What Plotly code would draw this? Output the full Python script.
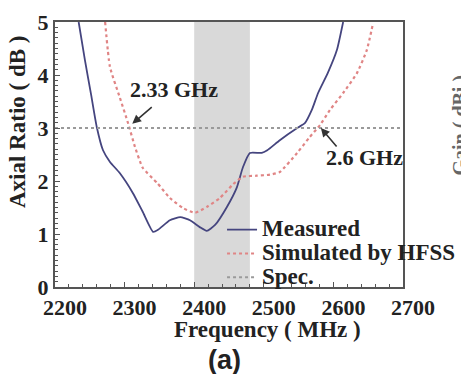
import plotly.graph_objects as go

# ---- data ----
freq_meas = [2234, 2243, 2252, 2260, 2269, 2279, 2293, 2312, 2326, 2341, 2348, 2365, 2380,
             2394, 2408, 2418, 2430, 2447, 2461, 2470, 2480, 2497, 2505, 2523, 2548, 2559,
             2569, 2578, 2592, 2605, 2614]
ar_meas = [5.0, 4.28, 3.62, 3.02, 2.58, 2.36, 2.15, 1.77, 1.42, 1.04, 1.08, 1.26, 1.32,
           1.26, 1.13, 1.06, 1.17, 1.51, 1.87, 2.26, 2.53, 2.53, 2.58, 2.77, 3.0, 3.09,
           3.34, 3.66, 4.04, 4.47, 5.0]

freq_sim = [2272, 2279, 2293, 2305, 2315, 2326, 2347, 2365, 2384, 2401, 2418, 2437, 2456,
            2470, 2490, 2509, 2523, 2548, 2566, 2581, 2595, 2614, 2634, 2648, 2657]
ar_sim = [5.0, 4.15, 3.58, 3.09, 2.64, 2.25, 1.96, 1.68, 1.49, 1.40, 1.51, 1.68, 1.94,
          2.08, 2.10, 2.12, 2.17, 2.53, 2.83, 3.06, 3.34, 3.66, 4.04, 4.47, 4.98]

freq_spec = [2200, 2700]
ar_spec = [3, 3]

band = [2400, 2480]           # shaded band (MHz)
x_ticks = [2200, 2300, 2400, 2500, 2600, 2700]
y_ticks = [0, 1, 2, 3, 4, 5]

mark_low = (2311, 3.08, "2.33 GHz")
mark_high = (2582, 3.0, "2.6 GHz")

SERIF = "Liberation Serif, Times New Roman, serif"
TXT = "#222222"

fig = go.Figure()

fig.add_shape(type="rect", xref="x", yref="paper", x0=band[0], x1=band[1], y0=0, y1=1,
              fillcolor="#d9d9d9", line=dict(width=0), layer="below")


def lg(name):
    return '<span style="font-size:23px">' + name + '</span>'


fig.add_trace(go.Scatter(x=freq_meas, y=ar_meas, mode="lines", name=lg("<b>Measured</b>"),
                         line=dict(color="#45457f", width=1.8, shape="spline", smoothing=0.5)))
fig.add_trace(go.Scatter(x=freq_sim, y=ar_sim, mode="lines", name=lg("<b>Simulated by HFSS</b>"),
                         line=dict(color="#e08585", width=2.2, dash="dot", shape="spline",
                                   smoothing=0.5)))
fig.add_trace(go.Scatter(x=freq_spec, y=ar_spec, mode="lines", name=lg("<b>Spec.</b>"),
                         line=dict(color="#9a9a9a", width=2, dash="dot")))

# marker annotations
for (fx, fy, label), (ax, ay), (tx, ty) in [
        (mark_low, (21, -18), (2371, 3.72)),
        (mark_high, (17, 20), (2645, 2.45))]:
    fig.add_annotation(x=fx, y=fy, xref="x", yref="y", text="", showarrow=True,
                       ax=ax, ay=ay, arrowhead=2, arrowsize=1.1, arrowwidth=1.6,
                       arrowcolor="#333333")
    fig.add_annotation(x=tx, y=ty, xref="x", yref="y", text="<b>" + label + "</b>",
                       showarrow=False, xanchor="center", yanchor="middle",
                       font=dict(family=SERIF, size=22, color=TXT))

# axis titles and caption
common_ann = dict(xref="paper", yref="paper", showarrow=False, xanchor="center",
                  yanchor="middle")
fig.add_annotation(x=-0.106, y=0.623, textangle=-90, text="<b>Axial Ratio ( dB )</b>",
                   font=dict(family=SERIF, size=23, color=TXT), **common_ann)
fig.add_annotation(x=0.611, y=-0.162, text="<b>Frequency ( MHz )</b>",
                   font=dict(family=SERIF, size=23, color=TXT), **common_ann)
fig.add_annotation(x=0.486, y=-0.275, text="<b>(a)</b>",
                   font=dict(family="Liberation Sans, Arial, sans-serif", size=27, color=TXT),
                   **common_ann)
fig.add_annotation(x=1.165, y=0.611, textangle=-90, text="<b>Gain ( dBi )</b>",
                   font=dict(family=SERIF, size=20, color="#666666"), **common_ann)

axis_common = dict(showline=True, mirror=True, linecolor="#555555", linewidth=2,
                   ticks="inside", ticklen=5, tickcolor="#555555", showgrid=False,
                   zeroline=False, tickfont=dict(family=SERIF, size=22, color=TXT))

fig.update_xaxes(range=[2200, 2700], tickvals=x_ticks, ticktext=[f"<b>{v}</b>" for v in x_ticks],
                 ticklabelshift=10,
                 minor=dict(dtick=20, ticks="inside", ticklen=3, tickcolor="#555555"),
                 **axis_common)
fig.update_yaxes(range=[0, 5], tickvals=y_ticks, ticktext=[f"<b>{v}</b>" for v in y_ticks],
                 minor=dict(dtick=0.1, ticks="inside", ticklen=3, tickcolor="#555555"),
                 **axis_common)

fig.update_layout(
    width=461, height=374,
    margin=dict(l=55, r=58, t=22, b=87, autoexpand=False),
    paper_bgcolor="white", plot_bgcolor="white",
    showlegend=True,
    legend=dict(x=0.48, y=0.28, xanchor="left", yanchor="top",
                bgcolor="rgba(0,0,0,0)", borderwidth=0, tracegroupgap=0,
                font=dict(family=SERIF, size=16, color=TXT)),
)

fig.write_html("out.html")
